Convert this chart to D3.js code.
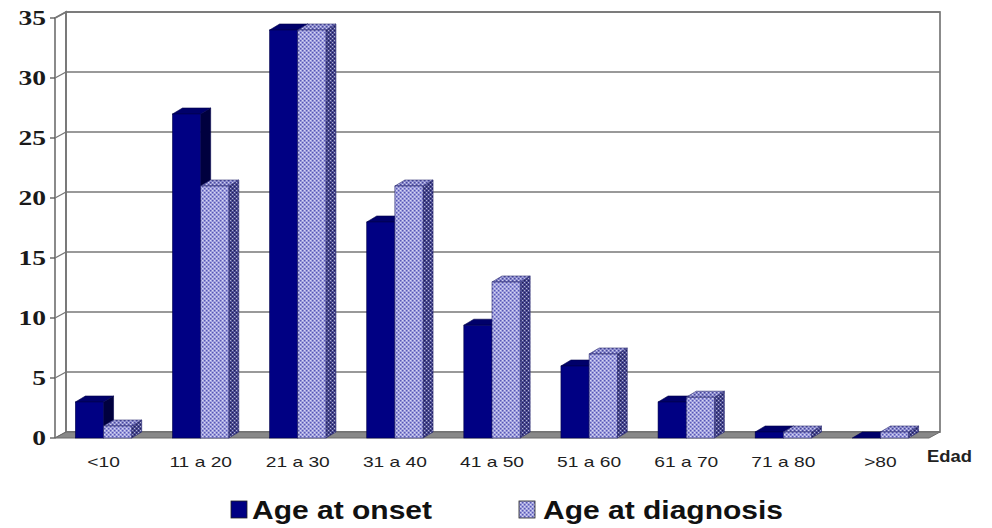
<!DOCTYPE html>
<html>
<head>
<meta charset="utf-8">
<script src="https://cdn.jsdelivr.net/npm/d3@7"></script>
<style>
  html, body { margin: 0; padding: 0; background: #fff; }
  svg { display: block; }
</style>
</head>
<body>
<svg id="chart" width="992" height="528"></svg>
<script>
// Age groups (in years) and the share of cases in each group
const categories = ["<10", "11 a 20", "21 a 30", "31 a 40", "41 a 50", "51 a 60", "61 a 70", "71 a 80", ">80"];
const seriesNames = ["Age at onset", "Age at diagnosis"];
const onsetValues = [3, 27, 34, 18, 9.4, 6, 3, 0.5, 0];
const diagnosisValues = [1, 21, 34, 21, 13, 7, 3.4, 0.5, 0.5];
const yTickValues = [0, 5, 10, 15, 20, 25, 30, 35];
const axisTitle = "Edad";

const svg = d3.select("#chart");
const defs = svg.append("defs");

// Dotted fills for the diagnosis series (front, side and top faces)
function dotPattern(id, bg, fg) {
  const p = defs.append("pattern").attr("id", id)
    .attr("patternUnits", "userSpaceOnUse").attr("width", 4).attr("height", 4);
  p.append("rect").attr("width", 4).attr("height", 4).attr("fill", bg);
  p.append("rect").attr("x", 0).attr("y", 0).attr("width", 1.4).attr("height", 1.4).attr("fill", fg);
  p.append("rect").attr("x", 2).attr("y", 2).attr("width", 1.4).attr("height", 1.4).attr("fill", fg);
  p.append("rect").attr("x", 2).attr("y", 0).attr("width", 1).attr("height", 1).attr("fill", "#ffffff").attr("opacity", 0.55);
  p.append("rect").attr("x", 0).attr("y", 2).attr("width", 1).attr("height", 1).attr("fill", "#ffffff").attr("opacity", 0.55);
}
dotPattern("diagFront", "#a9a9e2", "#5858b6");
dotPattern("diagSide", "#52529a", "#1e1e5a");
dotPattern("diagTop", "#9494d4", "#48489a");

// Oblique 3D projection: depth offset of the wall and of the bars
const DX = 11, DY = -6;
const BDX = 10, BDY = -6;

const x = d3.scaleBand().domain(categories).range([55, 929])
  .paddingInner(0.42).paddingOuter(0.21);
const xs = d3.scaleBand().domain(seriesNames).range([0, x.bandwidth()]);
const y = d3.scaleLinear().domain([0, 35]).range([438, 18]);

const gridColor = "#777";
const line = d3.line();

// Back wall with gridlines
const wall = svg.append("g");
wall.append("rect")
  .attr("x", x.range()[0] + DX).attr("y", y(35) + DY)
  .attr("width", x.range()[1] - x.range()[0]).attr("height", y(0) - y(35))
  .attr("fill", "#fff").attr("stroke", gridColor).attr("stroke-width", 1.7);
wall.selectAll("line.grid").data(yTickValues).join("line")
  .attr("class", "grid")
  .attr("x1", x.range()[0] + DX).attr("x2", x.range()[1] + DX)
  .attr("y1", d => y(d) + DY).attr("y2", d => y(d) + DY)
  .attr("stroke", gridColor).attr("stroke-width", 1.7);

// Left side wall: its gridlines run from the axis back to the wall
wall.selectAll("line.side").data(yTickValues).join("line")
  .attr("class", "side")
  .attr("x1", x.range()[0]).attr("x2", x.range()[0] + DX)
  .attr("y1", d => y(d)).attr("y2", d => y(d) + DY)
  .attr("stroke", gridColor).attr("stroke-width", 1.3);
wall.append("path")
  .attr("d", line([[x.range()[0], y(0)], [x.range()[0], y(35)], [x.range()[0] + DX, y(35) + DY], [x.range()[0] + DX, y(0) + DY]]))
  .attr("fill", "none").attr("stroke", gridColor).attr("stroke-width", 1.7);

// Floor
svg.append("path")
  .attr("d", line([[x.range()[0], y(0)], [x.range()[1], y(0)], [x.range()[1] + DX, y(0) + DY], [x.range()[0] + DX, y(0) + DY]]) + "Z")
  .attr("fill", "#888").attr("stroke", "#6a6a6a").attr("stroke-width", 1);

// Y axis ticks
svg.selectAll("line.tick").data(yTickValues).join("line")
  .attr("class", "tick")
  .attr("x1", x.range()[0] - 5).attr("x2", x.range()[0])
  .attr("y1", d => y(d)).attr("y2", d => y(d))
  .attr("stroke", "#555").attr("stroke-width", 1.3);

svg.selectAll("text.ylab").data(yTickValues).join("text")
  .attr("class", "ylab")
  .attr("transform", d => `translate(46,${y(d)}) scale(1.25,1)`)
  .attr("text-anchor", "end").attr("dy", "0.34em")
  .attr("font-family", "'Liberation Serif', 'Times New Roman', serif")
  .attr("font-weight", "bold").attr("font-size", 22).attr("fill", "#1a1a1a")
  .text(d => d);

// Bars as prisms: front face, right side face, top face
const rows = categories.map((c, i) => ({ cat: c, values: [onsetValues[i], diagnosisValues[i]] }));
const styles = [
  { front: "#000083", side: "#00003e", top: "#00006a", stroke: "#00004a" },
  { front: "url(#diagFront)", side: "url(#diagSide)", top: "url(#diagTop)", stroke: "#2a2a70" }
];

const bars = svg.append("g");
rows.forEach(r => {
  r.values.forEach((v, k) => {
    const x0 = x(r.cat) + xs(seriesNames[k]);
    const w = xs.bandwidth();
    const yt = y(v), yb = y(0);
    const st = styles[k];
    const g = bars.append("g");
    g.append("path")
      .attr("d", line([[x0 + w, yb], [x0 + w, yt], [x0 + w + BDX, yt + BDY], [x0 + w + BDX, yb + BDY]]) + "Z")
      .attr("fill", st.side).attr("stroke", st.stroke).attr("stroke-width", 0.6);
    g.append("path")
      .attr("d", line([[x0, yt], [x0 + BDX, yt + BDY], [x0 + w + BDX, yt + BDY], [x0 + w, yt]]) + "Z")
      .attr("fill", st.top).attr("stroke", st.stroke).attr("stroke-width", 0.6);
    g.append("rect")
      .attr("x", x0).attr("y", yt).attr("width", w).attr("height", Math.max(0, yb - yt))
      .attr("fill", st.front).attr("stroke", st.stroke).attr("stroke-width", 0.6);
  });
});

// Category labels
svg.selectAll("text.xlab").data(categories).join("text")
  .attr("class", "xlab")
  .attr("transform", d => `translate(${x(d) + x.bandwidth() / 2},467) scale(1.28,1)`)
  .attr("text-anchor", "middle")
  .attr("font-family", "'Liberation Sans', Arial, sans-serif")
  .attr("font-size", 15).attr("fill", "#1e1e1e")
  .text(d => d);

// Axis title
svg.append("text")
  .attr("transform", "translate(927,462) scale(1.15,1)")
  .attr("font-family", "'Liberation Sans', Arial, sans-serif")
  .attr("font-weight", "bold")
  .attr("font-size", 16).attr("fill", "#222")
  .text(axisTitle);

// Legend
const legendItems = [
  { name: seriesNames[0], fill: styles[0].front, sx: 231, tx: 252 },
  { name: seriesNames[1], fill: styles[1].front, sx: 519, tx: 543 }
];
const legend = svg.append("g");
legendItems.forEach(it => {
  legend.append("rect")
    .attr("x", it.sx).attr("y", 501).attr("width", 16).attr("height", 17)
    .attr("fill", it.fill).attr("stroke", "#222").attr("stroke-width", 0.8);
  legend.append("text")
    .attr("transform", `translate(${it.tx},519) scale(1.2,1)`)
    .attr("font-family", "'Liberation Sans', Arial, sans-serif")
    .attr("font-weight", "bold").attr("font-size", 25).attr("fill", "#111")
    .text(it.name);
});
</script>
</body>
</html>
